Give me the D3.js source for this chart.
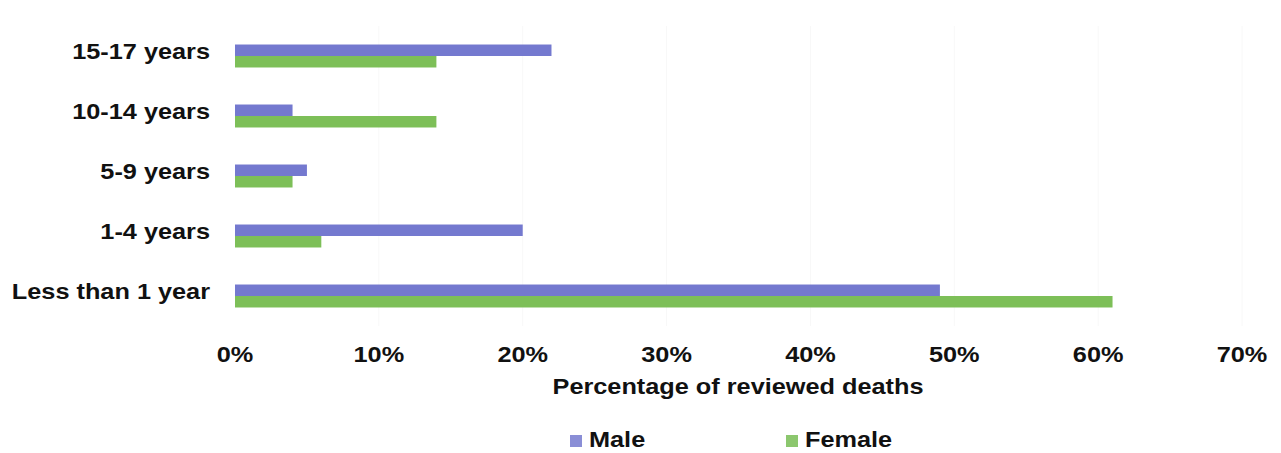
<!DOCTYPE html>
<html>
<head>
<meta charset="utf-8">
<script src="https://cdn.jsdelivr.net/npm/d3@7"></script>
<style>
  html, body { margin: 0; padding: 0; background: #fff; }
  svg { display: block; }
  text { font-family: "Liberation Sans", Arial, sans-serif; font-weight: bold; fill: #111; }
</style>
</head>
<body>
<svg id="chart" width="1281" height="453"></svg>
<script>
const categories = ["15-17 years", "10-14 years", "5-9 years", "1-4 years", "Less than 1 year"];
const seriesNames = ["Male", "Female"];
const maleValues = [22, 4, 5, 20, 49];
const femaleValues = [14, 14, 4, 6, 61];
const tickValues = [0, 10, 20, 30, 40, 50, 60, 70];
const tickLabels = ["0%", "10%", "20%", "30%", "40%", "50%", "60%", "70%"];
const axisTitle = "Percentage of reviewed deaths";

const colors = { Male: "#7479cf", Female: "#7dbf58" };
const legendColors = { Male: "#8a8ed6", Female: "#8cc76e" };
const SX = 1.15;
const FS = 22;

const svg = d3.select("#chart");
const x = d3.scaleLinear().domain([0, 70]).range([235, 1242]);
const y0 = d3.scaleBand().domain(categories).range([26, 326]).paddingInner(0.617).paddingOuter(0.3085);
const y1 = d3.scaleBand().domain(seriesNames).range([0, y0.bandwidth()]);

// faint gridlines
svg.append("g").selectAll("line").data(tickValues.slice(1)).join("line")
  .attr("x1", d => x(d)).attr("x2", d => x(d))
  .attr("y1", 26).attr("y2", 326)
  .attr("stroke", "#f8f8f8").attr("stroke-width", 1);

const data = categories.map((c, i) => ({ cat: c, Male: maleValues[i], Female: femaleValues[i] }));

const groups = svg.append("g").selectAll("g").data(data).join("g")
  .attr("transform", d => `translate(0,${y0(d.cat)})`);
groups.selectAll("rect").data(d => seriesNames.map(s => ({ s, v: d[s] }))).join("rect")
  .attr("x", x(0))
  .attr("y", d => y1(d.s))
  .attr("width", d => x(d.v) - x(0))
  .attr("height", y1.bandwidth())
  .attr("fill", d => colors[d.s]);

function stretchedText(g, tx, ty, txt, anchor, size) {
  g.append("text")
    .attr("transform", `translate(${tx},${ty}) scale(${SX},1)`)
    .attr("text-anchor", anchor)
    .style("font-size", size + "px")
    .text(txt);
}

// category labels
const catG = svg.append("g");
categories.forEach(c => {
  stretchedText(catG, 210, y0(c) + y0.bandwidth() / 2 + 3, c, "end", FS);
});

// x tick labels
const axG = svg.append("g");
tickValues.forEach((t, i) => {
  stretchedText(axG, x(t), 362, tickLabels[i], "middle", FS);
});
stretchedText(axG, 738, 394, axisTitle, "middle", FS);

// legend
const lg = svg.append("g");
const legendPos = [{ s: "Male", sq: 570, tx: 589 }, { s: "Female", sq: 786, tx: 805 }];
legendPos.forEach(p => {
  lg.append("rect").attr("x", p.sq).attr("y", 435).attr("width", 12).attr("height", 12)
    .attr("fill", legendColors[p.s]);
  stretchedText(lg, p.tx, 447, p.s, "start", FS);
});
</script>
</body>
</html>
